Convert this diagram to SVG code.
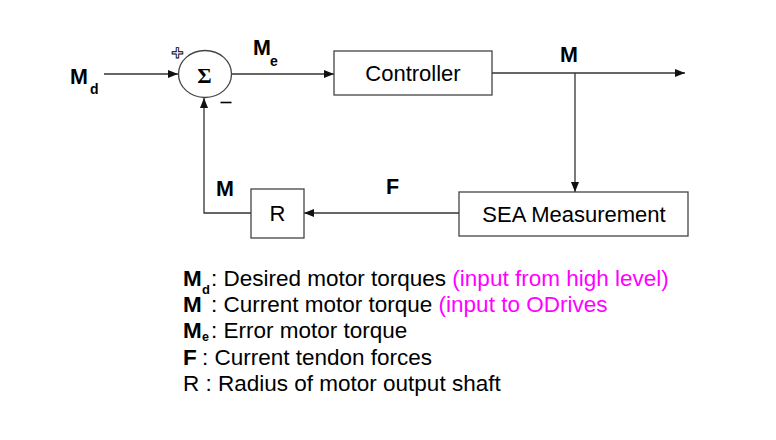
<svg xmlns="http://www.w3.org/2000/svg" width="776" height="440" viewBox="0 0 776 440">
<defs>
<style>
.ln{stroke:#333;stroke-width:1.3;fill:none}
.box{stroke:#444;stroke-width:1.3;fill:#fff}
.t{font-family:"Liberation Sans",Arial,sans-serif;fill:#000}
.b{font-weight:bold}
.mg{fill:#ff00ff}
</style>
<marker id="ah" viewBox="0 0 10 10" refX="10" refY="5" markerWidth="10" markerHeight="10" markerUnits="userSpaceOnUse" orient="auto">
<path d="M0,1 L10,5 L0,9 Z" fill="#111"/>
</marker>
</defs>
<rect width="776" height="440" fill="#fff"/>
<g id="connectors">
<line class="ln" x1="104" y1="74" x2="178" y2="74" marker-end="url(#ah)"/>
<line class="ln" x1="232" y1="74" x2="334" y2="74" marker-end="url(#ah)"/>
<line class="ln" x1="492" y1="73" x2="685" y2="73" marker-end="url(#ah)"/>
<line class="ln" x1="575" y1="73" x2="575" y2="192" marker-end="url(#ah)"/>
<line class="ln" x1="459" y1="213" x2="304" y2="213" marker-end="url(#ah)"/>
<polyline class="ln" points="251,213 204,213 204,98" marker-end="url(#ah)"/>
</g>
<g id="labels">
<text class="t b" x="70" y="84" font-size="21.5">M</text>
<text class="t b" x="90" y="94" font-size="14">d</text>
<text class="t b" x="253" y="55" font-size="21.5">M</text>
<text class="t b" x="270" y="66" font-size="14">e</text>
<text class="t b" x="560" y="62" font-size="21.5">M</text>
<text class="t b" x="216" y="196" font-size="21.5">M</text>
<text class="t b" x="386" y="194" font-size="21.5">F</text>
</g>
<g id="sum">
<ellipse cx="205" cy="74" rx="26.5" ry="23.5" class="box"/>
<text x="204.5" y="83" text-anchor="middle" font-family="Liberation Serif,serif" font-weight="bold" font-size="22">Σ</text>
<text x="177.5" y="60" text-anchor="middle" font-family="Liberation Sans,sans-serif" font-weight="bold" font-size="21" fill="#fff" stroke="#000" stroke-width="0.9">+</text>
<line x1="220.5" y1="102.5" x2="231.5" y2="102.5" stroke="#000" stroke-width="1.6"/>
</g>
<g id="controller">
<rect class="box" x="334" y="51" width="158" height="44"/>
<text class="t" x="413" y="81" font-size="22" text-anchor="middle">Controller</text>
</g>
<g id="sea">
<rect class="box" x="459" y="192" width="229" height="44"/>
<text class="t" x="574" y="222" font-size="22" text-anchor="middle">SEA Measurement</text>
</g>
<g id="r">
<rect class="box" x="251" y="189" width="53" height="49"/>
<text class="t" x="277.5" y="221" font-size="22" text-anchor="middle">R</text>
</g>
<g id="legend">
<text class="t" font-size="22.5" y="286"><tspan x="183" class="b">M</tspan><tspan x="202" y="294" class="b" font-size="13">d</tspan><tspan x="211" y="286">: Desired motor torques </tspan><tspan class="mg">(input from high level)</tspan></text>
<text class="t" font-size="22.5" y="312"><tspan x="183" class="b">M</tspan><tspan x="211">: Current motor torque </tspan><tspan class="mg">(input to ODrives</tspan></text>
<text class="t" font-size="22.5" y="338"><tspan x="183" class="b">M</tspan><tspan x="202" y="341" class="b" font-size="12.5">e</tspan><tspan x="211" y="338">: Error motor torque</tspan></text>
<text class="t" font-size="22.5" y="365"><tspan x="183" class="b">F</tspan><tspan x="202">: Current tendon forces</tspan></text>
<text class="t" font-size="22.5" y="391"><tspan x="183">R : Radius of motor output shaft</tspan></text>
</g>
</svg>
